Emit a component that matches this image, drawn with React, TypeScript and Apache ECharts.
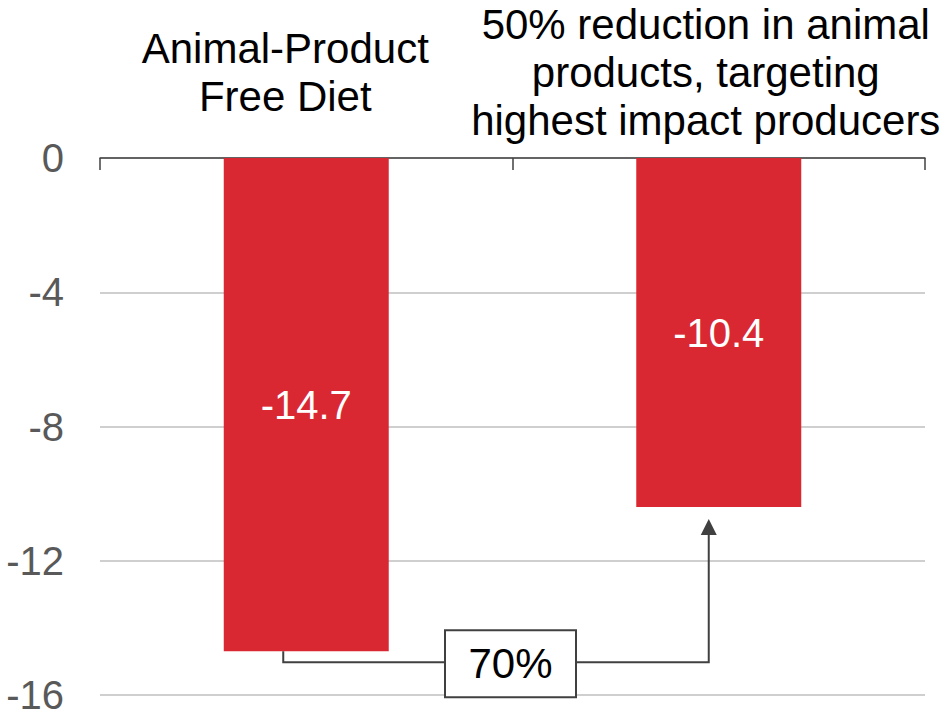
import React, { useEffect, useRef } from "react";
import * as echarts from "echarts";

const categories = [
  "Animal-Product\nFree Diet",
  "50% reduction in animal\nproducts, targeting\nhighest impact producers",
];
const values = [-14.7, -10.4];
const yTicks = { min: -16, max: 0, interval: 4 };
const changeLabel = "70%";

const FONT = "Liberation Sans, Arial, Helvetica, sans-serif";
const DARK = "#404040";

export default function App() {
  const ref = useRef<HTMLDivElement>(null);
  useEffect(() => {
    if (!ref.current) return;
    const chart = echarts.init(ref.current, undefined, { renderer: "svg" });
    chart.setOption({
      animation: false,
      backgroundColor: "#ffffff",
      grid: { left: 100, right: 24, top: 158, bottom: 19, containLabel: false, outerBoundsMode: "none" },
      xAxis: {
        type: "category",
        position: "top",
        data: categories,
        axisLine: { show: true, lineStyle: { color: DARK, width: 1.5 } },
        axisTick: { show: true, inside: true, length: 12, lineStyle: { color: DARK, width: 1.5 } },
        axisLabel: {
          interval: 0,
          margin: 86,
          verticalAlign: "middle",
          color: "#000000",
          fontFamily: FONT,
          fontSize: 42,
          lineHeight: 48,
          formatter: (v: string, i: number) => `{c${i}|${v}}`,
          rich: {
            c0: { fontFamily: FONT, fontSize: 42, lineHeight: 48, color: "#000", padding: [0, 42, 0, 0] },
            c1: { fontFamily: FONT, fontSize: 42, lineHeight: 48, color: "#000", padding: [0, 26, 0, 0] },
          },
        },
        splitLine: { show: false },
      },
      yAxis: {
        type: "value",
        min: yTicks.min,
        max: yTicks.max,
        interval: yTicks.interval,
        axisLine: { show: false },
        axisTick: { show: false },
        axisLabel: { color: "#595959", fontSize: 40, lineHeight: 34, fontFamily: FONT, margin: 36 },
        splitLine: { lineStyle: { color: "#bfbfbf", width: 1.5 } },
      },
      series: [
        {
          type: "bar",
          data: values,
          barWidth: "40%",
          itemStyle: { color: "#DA2833" },
          label: {
            show: true,
            position: "inside",
            color: "#ffffff",
            fontSize: 40,
            fontFamily: FONT,
            formatter: (p: any) => Number(p.value).toFixed(1),
          },
        },
      ],
    });

    const p1 = chart.convertToPixel({ gridIndex: 0 }, [0, values[0]]) as number[];
    const p2 = chart.convertToPixel({ gridIndex: 0 }, [1, values[1]]) as number[];
    const x1 = p1[0] - 23;
    const x2 = p2[0] - 10;
    const elbowY = p1[1] + 11;
    const tipY = p2[1] + 12;
    const boxCx = (p1[0] + p2[0]) / 2 - 2;
    const boxW = 131;
    const boxH = 67;
    const boxCy = elbowY + 1.5;
    const lineStyle = { stroke: DARK, lineWidth: 2, fill: null };

    chart.setOption({
      graphic: [
        { type: "polyline", z: 100, shape: { points: [[x1, p1[1]], [x1, elbowY], [x2, elbowY], [x2, tipY + 14]] }, style: lineStyle },
        { type: "polygon", z: 100, shape: { points: [[x2, tipY], [x2 - 8, tipY + 16], [x2 + 8, tipY + 16]] }, style: { fill: DARK } },
        { type: "rect", z: 101, shape: { x: boxCx - boxW / 2, y: boxCy - boxH / 2, width: boxW, height: boxH }, style: { fill: "#ffffff", stroke: DARK, lineWidth: 2 } },
        { type: "text", z: 102, x: boxCx, y: boxCy, style: { text: changeLabel, fill: "#000000", font: `42px ${FONT}`, align: "center", verticalAlign: "middle" } },
      ],
    });

    return () => chart.dispose();
  }, []);
  return <div ref={ref} style={{ position: "fixed", left: 0, top: 0, width: 949, height: 714 }} />;
}
